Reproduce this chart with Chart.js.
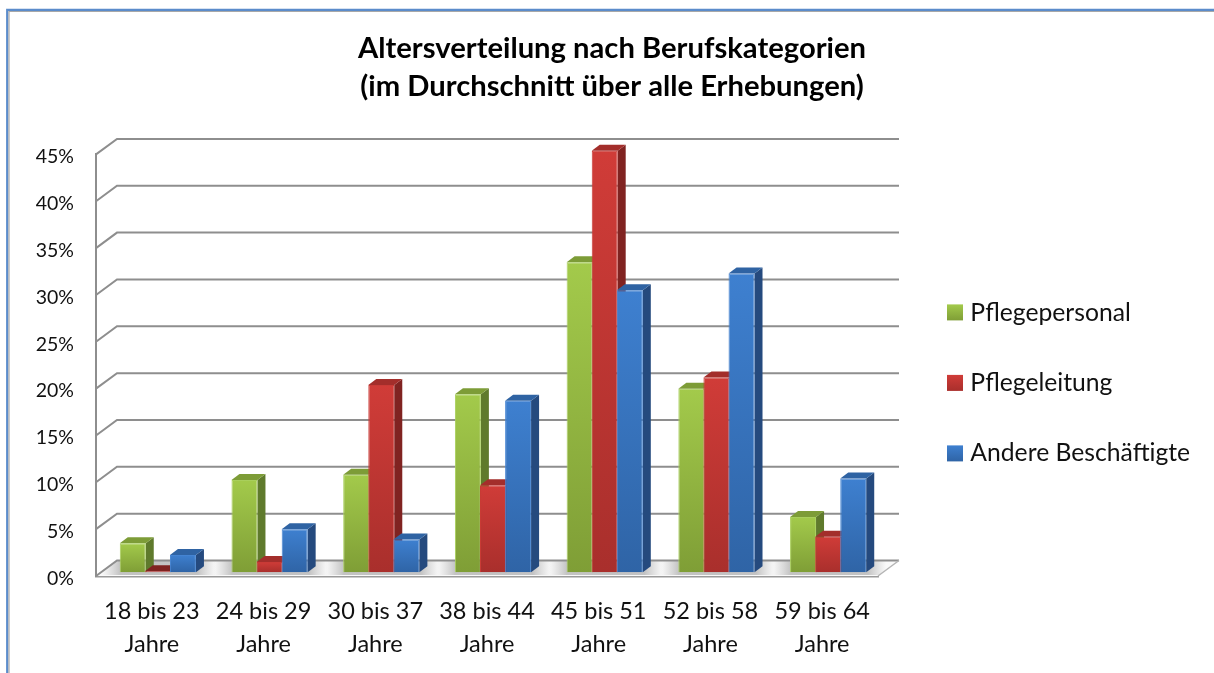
<!DOCTYPE html>
<html><head><meta charset="utf-8">
<style>html,body{margin:0;padding:0;background:#fff}#w{position:relative;width:1214px;height:673px}</style>
<script src="https://cdn.jsdelivr.net/npm/chart.js@4/dist/chart.umd.min.js"></script>
</head><body><div id="w"><canvas id="c" width="1214" height="673"></canvas></div>
<script>
const titleLines = ["Altersverteilung nach Berufskategorien","(im Durchschnitt über alle Erhebungen)"];
const categories = [["18 bis 23","Jahre"],["24 bis 29","Jahre"],["30 bis 37","Jahre"],["38 bis 44","Jahre"],["45 bis 51","Jahre"],["52 bis 58","Jahre"],["59 bis 64","Jahre"]];
const pflegepersonal = [3.1,9.85,10.4,19.0,33.1,19.6,5.9];
const pflegeleitung = [0.1,1.1,20,9.3,45,20.8,3.8];
const andere = [1.85,4.6,3.5,18.3,30.1,31.9,10];
const FONT = "Lato, Carlito, Calibri, sans-serif";
const C = {
  green:{top:"#a3ca4b",bot:"#7f9e36",edge:"#a9cf5c",side:"#5f7a2c",cap:"#7d9c37"},
  red:{top:"#d03c38",bot:"#a92f2c",edge:"#c93a36",side:"#802321",cap:"#a32e2b"},
  blue:{top:"#3e80d0",bot:"#2f64a6",edge:"#4584d2",side:"#254a7e",cap:"#2f63a3"}
};
const WALL={dx:21,dy:-15.5}, BAR={dx:6,dy:-3.7}, DEPTH={dx:8,dy:-6};
const LEGEND={x:947,y0:313,boxY0:312.4,step:70.5,box:16,pad:45.5,font:24.7};
function fill(c){return function(ctx){
  if(ctx.type!=='data') return c.top;
  const y=ctx.chart.scales.y;
  if(!y||ctx.parsed==null) return c.top;
  const g=ctx.chart.ctx.createLinearGradient(0,y.getPixelForValue(ctx.parsed.y),0,y.getPixelForValue(0));
  g.addColorStop(0,c.top);g.addColorStop(1,c.bot);return g;
};}
function ds(label,data,c){return {label,data,clip:false,backgroundColor:fill(c),borderColor:c.edge,borderWidth:1,
  categoryPercentage:0.674,barPercentage:1.035,_c:c};}
const poly=(x,pts,col)=>{x.beginPath();pts.forEach((p,i)=>i?x.lineTo(p[0],p[1]):x.moveTo(p[0],p[1]));x.closePath();x.fillStyle=col;x.fill();};
const legendGrad=(ctx,c,y)=>{const g=ctx.createLinearGradient(0,y,0,y+LEGEND.box);g.addColorStop(0,c.top);g.addColorStop(1,c.bot);return g;};
const plugin3d={id:'p3d',
  beforeLayout(ch){
    const l=ch.legend;
    if(!l._wrapped){const f=l.fit;l.fit=function(){f.call(this);this.width=336;};l._wrapped=true;}
  },
  afterLayout(ch){
    const l=ch.legend,w=l.width,h=l.height;
    const top=LEGEND.y0-LEGEND.font/2-LEGEND.pad;
    l.left=LEGEND.x-LEGEND.pad;l.right=l.left+w;l.top=top;l.bottom=top+h;
  },
  beforeDraw(ch){
    const x=ch.ctx;x.save();
    x.lineWidth=2.2;x.strokeStyle="#5b8ccb";
    x.beginPath();x.moveTo(7.2,673);x.lineTo(7.2,9.8);x.lineTo(1214,9.8);x.stroke();
    x.lineWidth=1.2;x.strokeStyle="#a8a8a8";
    x.beginPath();x.moveTo(9,673);x.lineTo(9,11.5);x.lineTo(1214,11.5);x.stroke();
    x.restore();
  },
  beforeDatasetsDraw(ch){
    const x=ch.ctx,ys=ch.scales.y,a=ch.chartArea,xs=ch.scales.x;
    x.save();
    const b=ys.getPixelForValue(0);
    poly(x,[[a.left,b],[a.right,b],[a.right+WALL.dx,b+WALL.dy],[a.left+WALL.dx,b+WALL.dy]],"#f9f9f9");
    x.save();
    x.beginPath();x.moveTo(a.left,b);x.lineTo(a.right,b);x.lineTo(a.right+WALL.dx,b+WALL.dy);x.lineTo(a.left+WALL.dx,b+WALL.dy);x.closePath();x.clip();
    categories.forEach((_,i)=>{
      const cx=xs.getPixelForValue(i)+BAR.dx;
      const g=x.createLinearGradient(cx-56,0,cx+58,0);
      g.addColorStop(0,"rgba(150,150,150,0)");g.addColorStop(.16,"rgba(130,130,130,.45)");g.addColorStop(.84,"rgba(130,130,130,.45)");g.addColorStop(1,"rgba(150,150,150,0)");
      x.fillStyle=g;x.fillRect(cx-56,b+WALL.dy,114,-WALL.dy-1);
    });
    x.restore();
    x.strokeStyle="#8e8e8e";x.lineWidth=2;
    ys.ticks.forEach((t,i)=>{
      const y=ys.getPixelForTick(i);
      x.beginPath();x.moveTo(a.left,y);x.lineTo(a.left+WALL.dx,y+WALL.dy);x.lineTo(a.right+WALL.dx,y+WALL.dy);x.stroke();
    });
    x.beginPath();x.moveTo(a.right,b);x.lineTo(a.right+WALL.dx,b+WALL.dy);x.lineWidth=1.5;x.strokeStyle="#b5b5b5";x.stroke();
    x.restore();
    ch.getSortedVisibleDatasetMetas().slice().sort((m,n)=>m.index-n.index).forEach(meta=>{
      const d=ch.data.datasets[meta.index],c=d._c;
      x.save();x.translate(BAR.dx,BAR.dy);
      meta.data.forEach((el,i)=>{
        const r=el.x+el.width/2,l=el.x-el.width/2,t=el.y,bb=el.base;
        poly(x,[[r,t],[r+DEPTH.dx,t+DEPTH.dy],[r+DEPTH.dx,bb+DEPTH.dy],[r,bb]],c.side);
        poly(x,[[l,t],[r,t],[r+DEPTH.dx,t+DEPTH.dy],[l+DEPTH.dx,t+DEPTH.dy]],d.data[i]<0.5?c.side:c.cap);
      });
      meta.controller.draw();
      x.restore();
    });
  },
  beforeDatasetDraw(){return false;},
  afterDraw(ch){
    const x=ch.ctx;x.save();
    ch.data.datasets.forEach((d,i)=>{
      const y=LEGEND.boxY0+LEGEND.step*i-LEGEND.box/2;
      x.fillStyle=legendGrad(x,d._c,y);x.fillRect(LEGEND.x,y,LEGEND.box,LEGEND.box);
    });
    x.restore();
  }
};
new Chart(document.getElementById('c'),{
  type:'bar',
  data:{labels:categories,datasets:[ds("Pflegepersonal",pflegepersonal,C.green),ds("Pflegeleitung",pflegeleitung,C.red),ds("Andere Beschäftigte",andere,C.blue)]},
  plugins:[plugin3d],
  options:{
    responsive:false,animation:false,
    layout:{padding:{left:10,right:0,top:0,bottom:0}},
    plugins:{
      title:{display:true,text:titleLines,color:"#000",font:{family:FONT,size:29.2,weight:'bold',lineHeight:1.3},padding:{top:30,bottom:48.5}},
      tooltip:{enabled:false},
      legend:{position:'right',align:'start',
        labels:{color:"#111",font:{family:FONT,size:LEGEND.font},boxWidth:11,boxHeight:14,padding:LEGEND.pad,
          generateLabels(ch){return ch.data.datasets.map((d,i)=>({text:d.label,fillStyle:d._c.top,strokeStyle:d._c.edge,lineWidth:0,datasetIndex:i,fontColor:"#111"}));}}}
    },
    scales:{
      x:{grid:{display:false},border:{display:true,color:"#9a9a9a",width:2.5},
        ticks:{color:"#111",font:{family:FONT,size:23.5,lineHeight:1.4},padding:11,maxRotation:0,autoSkip:false},
        afterFit(s){s.height=97;}},
      y:{min:0,max:45,grid:{display:false,drawTicks:false},border:{display:true,color:"#8e8e8e",width:2},
        ticks:{stepSize:5,color:"#111",font:{family:FONT,size:19.5},padding:22,labelOffset:2.5,callback:v=>v+"%"},
        afterFit(s){s.width=86;}}
    }
  }
});
</script></body></html>
